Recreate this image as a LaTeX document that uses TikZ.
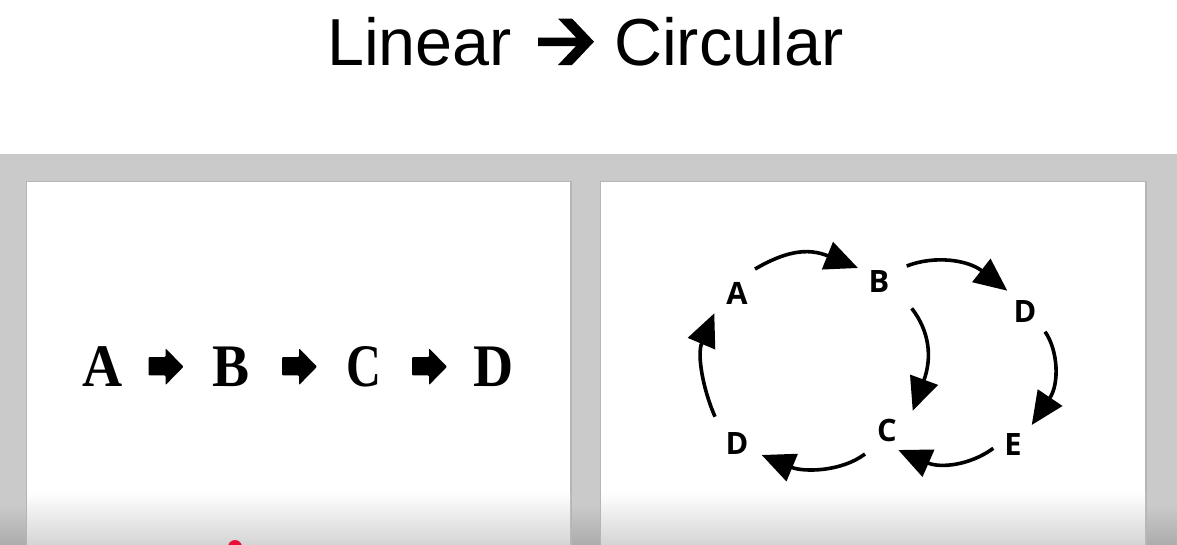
\documentclass[tikz,border=0pt]{standalone}
\usepackage{fontspec}
\setmainfont{Liberation Sans}
\newfontfamily\serifb{Liberation Serif}
\newfontfamily\osans{Open Sans}
\usetikzlibrary{arrows.meta}
\definecolor{bggray}{HTML}{C9CAC9}
\definecolor{bgdark}{HTML}{ABACAB}
\definecolor{panelbot}{HTML}{D4D4D4}
\definecolor{shadowc}{HTML}{B4B5B4}
\definecolor{dotred}{HTML}{E8103A}
\tikzset{
  cyc/.style={line width=3.6pt, -{Triangle[length=33pt,width=29pt]}},
  lnode/.style={inner sep=0pt, anchor=base, font=\serifb\bfseries\fontsize{60.4}{62}\selectfont},
  cnode/.style={inner sep=0pt, anchor=base, font=\osans\bfseries\fontsize{30.8}{32}\selectfont},
  titlenode/.style={inner sep=0pt, anchor=base west, font=\fontsize{66.5}{70}\selectfont},
  fatarrow/.pic={\fill[black, rounded corners=1pt] (0,-9.6) -- (17,-9.6) -- (17,-18.4) -- (35,0) -- (17,18.4) -- (17,8.6) -- (0,8.6) -- cycle;}
}
\begin{document}
\begin{tikzpicture}[x=1pt,y=-1pt]
\useasboundingbox (0,0) rectangle (1177,544);
\clip (0,0) rectangle (1177,544);
% backgrounds
\fill[white] (0,0) rectangle (1177,154);
\fill[bggray] (0,154) rectangle (1177,545);
\shade[top color=bggray,bottom color=bgdark] (0,505) rectangle (1177,545);
\fill[shadowc] (25.5,180.5) rectangle (571.5,545);
\fill[white] (27,182) rectangle (570,545);
\shade[top color=white,bottom color=panelbot] (27,492) rectangle (570,545);
\fill[shadowc] (599.5,180.5) rectangle (1146.5,545);
\fill[white] (601,182) rectangle (1145,545);
\shade[top color=white,bottom color=panelbot] (601,492) rectangle (1145,545);
% title
\node[titlenode] (tLin) at (327,65) {Linear};
\node[titlenode] (tCirc) at (614,65) {Circular};
\fill[black] (558,18.5) -- (572,18.5) -- (594,41.7) -- (572,65) -- (558,65) -- (576,46) -- (538,46) -- (538,37.5) -- (576,37.5) -- cycle;
% linear
\node[lnode] (lA) at (102.5,386) {\scalebox{0.92}[1]{A}};
\node[lnode] (lB) at (231,386) {\scalebox{0.92}[1]{B}};
\node[lnode] (lC) at (363.5,386) {\scalebox{0.8}[1]{C}};
\node[lnode] (lD) at (493.5,386) {\scalebox{0.92}[1]{D}};
\pic at (148.5,366.7) {fatarrow};
\pic at (282,366.7) {fatarrow};
\pic at (412,366.7) {fatarrow};
% circular
\node[cnode] (cA) at (737,304) {A};
\node[cnode] (cB) at (879,292) {B};
\node[cnode] (cD1) at (1025,322) {D};
\node[cnode] (cC) at (887,441) {C};
\node[cnode] (cE) at (1013,455) {E};
\node[cnode] (cD2) at (737,454) {D};
\coordinate (ab1) at (755,269);    \coordinate (ab2) at (858,268);
\coordinate (bd1) at (906.7,266);  \coordinate (bd2) at (1007.3,290.7);
\coordinate (bc1) at (911.7,308.3);\coordinate (bc2) at (912.7,410.7);
\coordinate (de1) at (1045,331.7); \coordinate (de2) at (1031.7,425);
\coordinate (ec1) at (993.3,448.3);\coordinate (ec2) at (898.3,450);
\coordinate (cd1) at (865,454);    \coordinate (cd2) at (761.7,455);
\coordinate (da1) at (715,416.7);  \coordinate (da2) at (714.3,313.3);
\draw[cyc] (ab1) .. controls (785.3,251.5) and (807,247.4) .. (ab2);
\draw[cyc] (bd1) .. controls (935,255) and (968,260) .. (bd2);
\draw[cyc] (bc1) .. controls (930,332) and (932,358.2) .. (bc2);
\draw[cyc] (de1) .. controls (1058,350) and (1059.6,383.5) .. (de2);
\draw[cyc] (ec1) .. controls (969,466) and (939.6,468.1) .. (ec2);
\draw[cyc] (cd1) .. controls (841,472) and (803.3,472.2) .. (cd2);
\draw[cyc] (da1) .. controls (703,389.4) and (696.8,354.7) .. (da2);
% cursor dot
\fill[dotred] (235,547) circle[radius=7];
\end{tikzpicture}
\end{document}
